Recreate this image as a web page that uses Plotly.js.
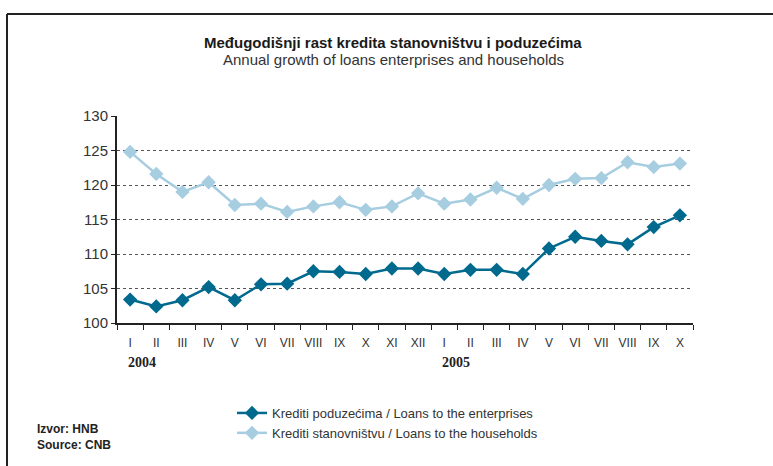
<!DOCTYPE html>
<html><head><meta charset="utf-8">
<script src="https://cdn.plot.ly/plotly-3.0.1.min.js"></script>
<style>html,body{margin:0;padding:0;background:#fff;}#chart{width:773px;height:466px;}</style>
</head><body><div id="chart"></div>
<script>
const months = ["I","II","III","IV","V","VI","VII","VIII","IX","X","XI","XII","I","II","III","IV","V","VI","VII","VIII","IX","X"];
const years = ["2004","2005"];
const yearPositions = [0, 12];
const enterprises = [103.4,102.4,103.3,105.2,103.3,105.6,105.7,107.5,107.4,107.1,107.9,107.9,107.1,107.7,107.7,107.1,110.8,112.5,111.9,111.4,113.9,115.6];
const households = [124.8,121.6,119.0,120.4,117.1,117.3,116.1,116.9,117.5,116.4,116.9,118.8,117.3,117.9,119.6,118.0,120.0,120.9,121.0,123.3,122.6,123.1];
const seriesNames = ["Krediti poduzećima / Loans to the enterprises","Krediti stanovništvu / Loans to the households"];
const titleMain = "Međugodišnji rast kredita stanovništvu i poduzećima";
const titleSub = "Annual growth of loans enterprises and households";
const sourceLines = ["Izvor: HNB","Source: CNB"];

const FONT = "'Liberation Sans Narrow', 'Arial Narrow', 'Liberation Sans', Arial, sans-serif";
const idx = months.map((m,i)=>i);
const W=773,H=466,ML=117,MR=80,MT=116,MB=143;
const PW=W-ML-MR, PH=H-MT-MB;
const px = x => (x-ML)/PW;
const py = y => (H-MB-y)/PH;

const traces = [
  {x: idx, y: enterprises, name: seriesNames[0], type:'scatter', mode:'lines+markers',
   line:{color:'#006a8e', width:2.5}, marker:{symbol:'diamond', size:11, color:'#006a8e'}},
  {x: idx, y: households, name: seriesNames[1], type:'scatter', mode:'lines+markers',
   line:{color:'#a6cde0', width:2.5}, marker:{symbol:'diamond', size:11, color:'#a6cde0'}}
];
const bounds = [];
for (let i=0;i<=months.length;i++) bounds.push(i-0.5);

const annotations = [
  {text:'<b>'+titleMain+'</b>', x:px(393), y:py(42), xref:'paper', yref:'paper', showarrow:false, xanchor:'center', yanchor:'middle', font:{family:FONT,size:15,color:'#1a1a1a'}},
  {text:titleSub, x:px(393), y:py(60), xref:'paper', yref:'paper', showarrow:false, xanchor:'center', yanchor:'middle', font:{family:FONT,size:15,color:'#333'}},
  {text:'<b>'+sourceLines[0]+'</b><br><b>'+sourceLines[1]+'</b>', x:px(35), y:py(437), xref:'paper', yref:'paper', showarrow:false, xanchor:'left', yanchor:'middle', align:'left', font:{family:FONT,size:12,color:'#222'}}
];
years.forEach((yr,k)=>{
  annotations.push({text:'<b>'+yr+'</b>', x:yearPositions[k], y:py(362), xref:'x', yref:'paper', showarrow:false, xanchor:'left', yanchor:'middle', xshift:-4, font:{family:"'Liberation Serif', 'Times New Roman', serif", size:14, color:'#222'}});
});

const layout = {
  width:W, height:H, margin:{l:ML,r:MR,t:MT,b:MB},
  paper_bgcolor:'#fff', plot_bgcolor:'#fff', showlegend:true,
  font:{family:FONT, color:'#333'},
  xaxis:{range:[-0.5, months.length-0.5], tickmode:'array', tickvals:idx, ticktext:months, ticks:'', showgrid:false, zeroline:false,
         showline:true, linecolor:'#222', linewidth:2, ticklabelstandoff:8, tickfont:{family:FONT,size:12,color:'#333'},
         minor:{tickmode:'array', tickvals:bounds, ticks:'outside', ticklen:5, tickcolor:'#222', tickwidth:1, showgrid:false}},
  yaxis:{range:[100,130], dtick:5, tick0:100, ticks:'outside', ticklen:4, tickcolor:'#222', showline:true, linecolor:'#222', linewidth:2,
         showgrid:true, gridcolor:'#555', griddash:'dot', gridwidth:1, zeroline:false, tickfont:{family:FONT,size:15,color:'#333'}},
  legend:{x:px(232), y:py(398), xanchor:'left', yanchor:'top', orientation:'v', tracegroupgap:4, itemwidth:30, font:{family:FONT,size:13,color:'#333'}, bgcolor:'rgba(0,0,0,0)'},
  annotations: annotations,
  shapes:[
    {type:'line', xref:'paper', yref:'paper', x0:px(7), x1:px(775), y0:py(14), y1:py(14), line:{color:'#222', width:2}},
    {type:'line', xref:'paper', yref:'paper', x0:px(7), x1:px(7), y0:py(14), y1:py(470), line:{color:'#222', width:2}}
  ]
};
Plotly.newPlot('chart', traces, layout, {displayModeBar:false, staticPlot:true});
</script></body></html>
